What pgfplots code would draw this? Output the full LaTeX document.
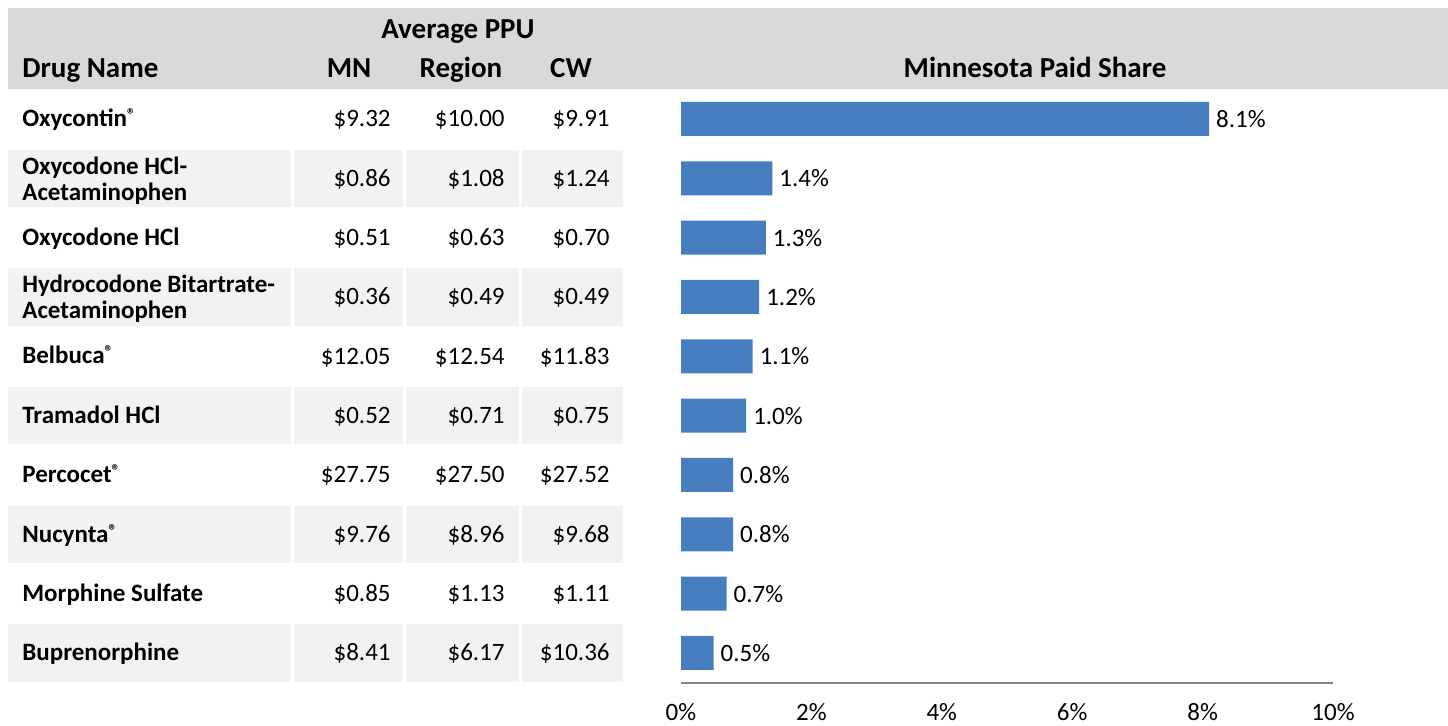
\documentclass[border=0pt]{standalone}
\usepackage{fontspec}
\setmainfont{Carlito}
\usepackage{pgfplots}
\pgfplotsset{compat=1.18}
\definecolor{hdrgray}{RGB}{217,217,217}
\definecolor{rowgray}{RGB}{242,242,242}
\definecolor{barblue}{RGB}{71,126,192}
\definecolor{axgray}{RGB}{134,134,134}
\newcommand{\reg}{\raisebox{0.5ex}{\fontsize{8.5}{9}\selectfont ®}}

\begin{document}
\begin{tikzpicture}[x=0.5pt,y=-0.5pt,
  hdr/.style={font=\bfseries\fontsize{14.5}{16}\selectfont, inner sep=0pt},
  nm/.style={font=\bfseries\fontsize{12.5}{14}\selectfont, inner sep=0pt, anchor=mid west},
  val/.style={font=\fontsize{12.5}{14}\selectfont, inner sep=0pt, anchor=mid east}]
\useasboundingbox (0,0) rectangle (1448,725);
% header band
\fill[hdrgray] (8,8) rectangle (1448,89);
\node[hdr, anchor=base] at (458,38) {Average PPU};
\node[hdr, anchor=base west] at (22,77) {Drug Name};
\node[hdr, anchor=base] at (349,77) {MN};
\node[hdr, anchor=base] at (461,77) {Region};
\node[hdr, anchor=base] at (571,77) {CW};
\node[hdr, anchor=base] at (1035,77) {Minnesota Paid Share};
% striped rows
\foreach \i in {1,3,5,7,9}{
  \pgfmathsetmacro\t{89.3+59.33*\i+1}
  \pgfmathsetmacro\b{89.3+59.33*(\i+1)-1}
  \fill[rowgray] (8,\t) rectangle (291,\b);
  \fill[rowgray] (294,\t) rectangle (403,\b);
  \fill[rowgray] (406,\t) rectangle (519,\b);
  \fill[rowgray] (522,\t) rectangle (623,\b);
}
% drug names
\node[nm] at (22,122) {Oxycontin\reg};
\node[nm] at (22,170) {Oxycodone HCl-};
\node[nm] at (22,196) {Acetaminophen};
\node[nm] at (22,241) {Oxycodone HCl};
\node[nm] at (22,288) {Hydrocodone Bitartrate-};
\node[nm] at (22,314) {Acetaminophen};
\node[nm] at (22,359) {Belbuca\reg};
\node[nm] at (22,419) {Tramadol HCl};
\node[nm] at (22,478) {Percocet\reg};
\node[nm] at (22,538) {Nucynta\reg};
\node[nm] at (22,597) {Morphine Sulfate};
\node[nm] at (22,656) {Buprenorphine};
% average PPU values
\foreach \i/\mn/\rg/\cw in {0/9.32/10.00/9.91, 1/0.86/1.08/1.24, 2/0.51/0.63/0.70,
    3/0.36/0.49/0.49, 4/12.05/12.54/11.83, 5/0.52/0.71/0.75, 6/27.75/27.50/27.52,
    7/9.76/8.96/9.68, 8/0.85/1.13/1.11, 9/8.41/6.17/10.36}{
  \pgfmathsetmacro\c{122+59.33*\i}
  \node[val] at (391,\c) {\$\mn};
  \node[val] at (505,\c) {\$\rg};
  \node[val] at (610,\c) {\$\cw};
}
\coordinate (axorig) at (681,682.6);
% Minnesota paid share
\begin{axis}[at={(axorig)}, anchor=south west, scale only axis,
    width=326pt, height=296.65pt,
    xmin=0, xmax=10, ymin=-9.5, ymax=0.5,
    xbar, bar width=17pt,
    axis y line=none, axis x line*=bottom,
    x axis line style={draw=axgray, line width=1pt, -},
    xtick={0,2,...,10}, major tick length=0pt,
    xticklabel={\pgfmathprintnumber{\tick}\%},
    xticklabel style={font=\fontsize{12.5}{14}\selectfont, yshift=-7pt},
    /pgf/number format/assume math mode=true,
    nodes near coords={\pgfmathprintnumber[fixed,fixed zerofill,precision=1]{\pgfplotspointmeta}\%},
    nodes near coords style={font=\fontsize{12.5}{14}\selectfont, black},
  ]
  \addplot[fill=barblue, draw=none] coordinates {
    (8.1,0) (1.4,-1) (1.3,-2) (1.2,-3) (1.1,-4)
    (1.0,-5) (0.8,-6) (0.8,-7) (0.7,-8) (0.5,-9)};
\end{axis}
\end{tikzpicture}
\end{document}
